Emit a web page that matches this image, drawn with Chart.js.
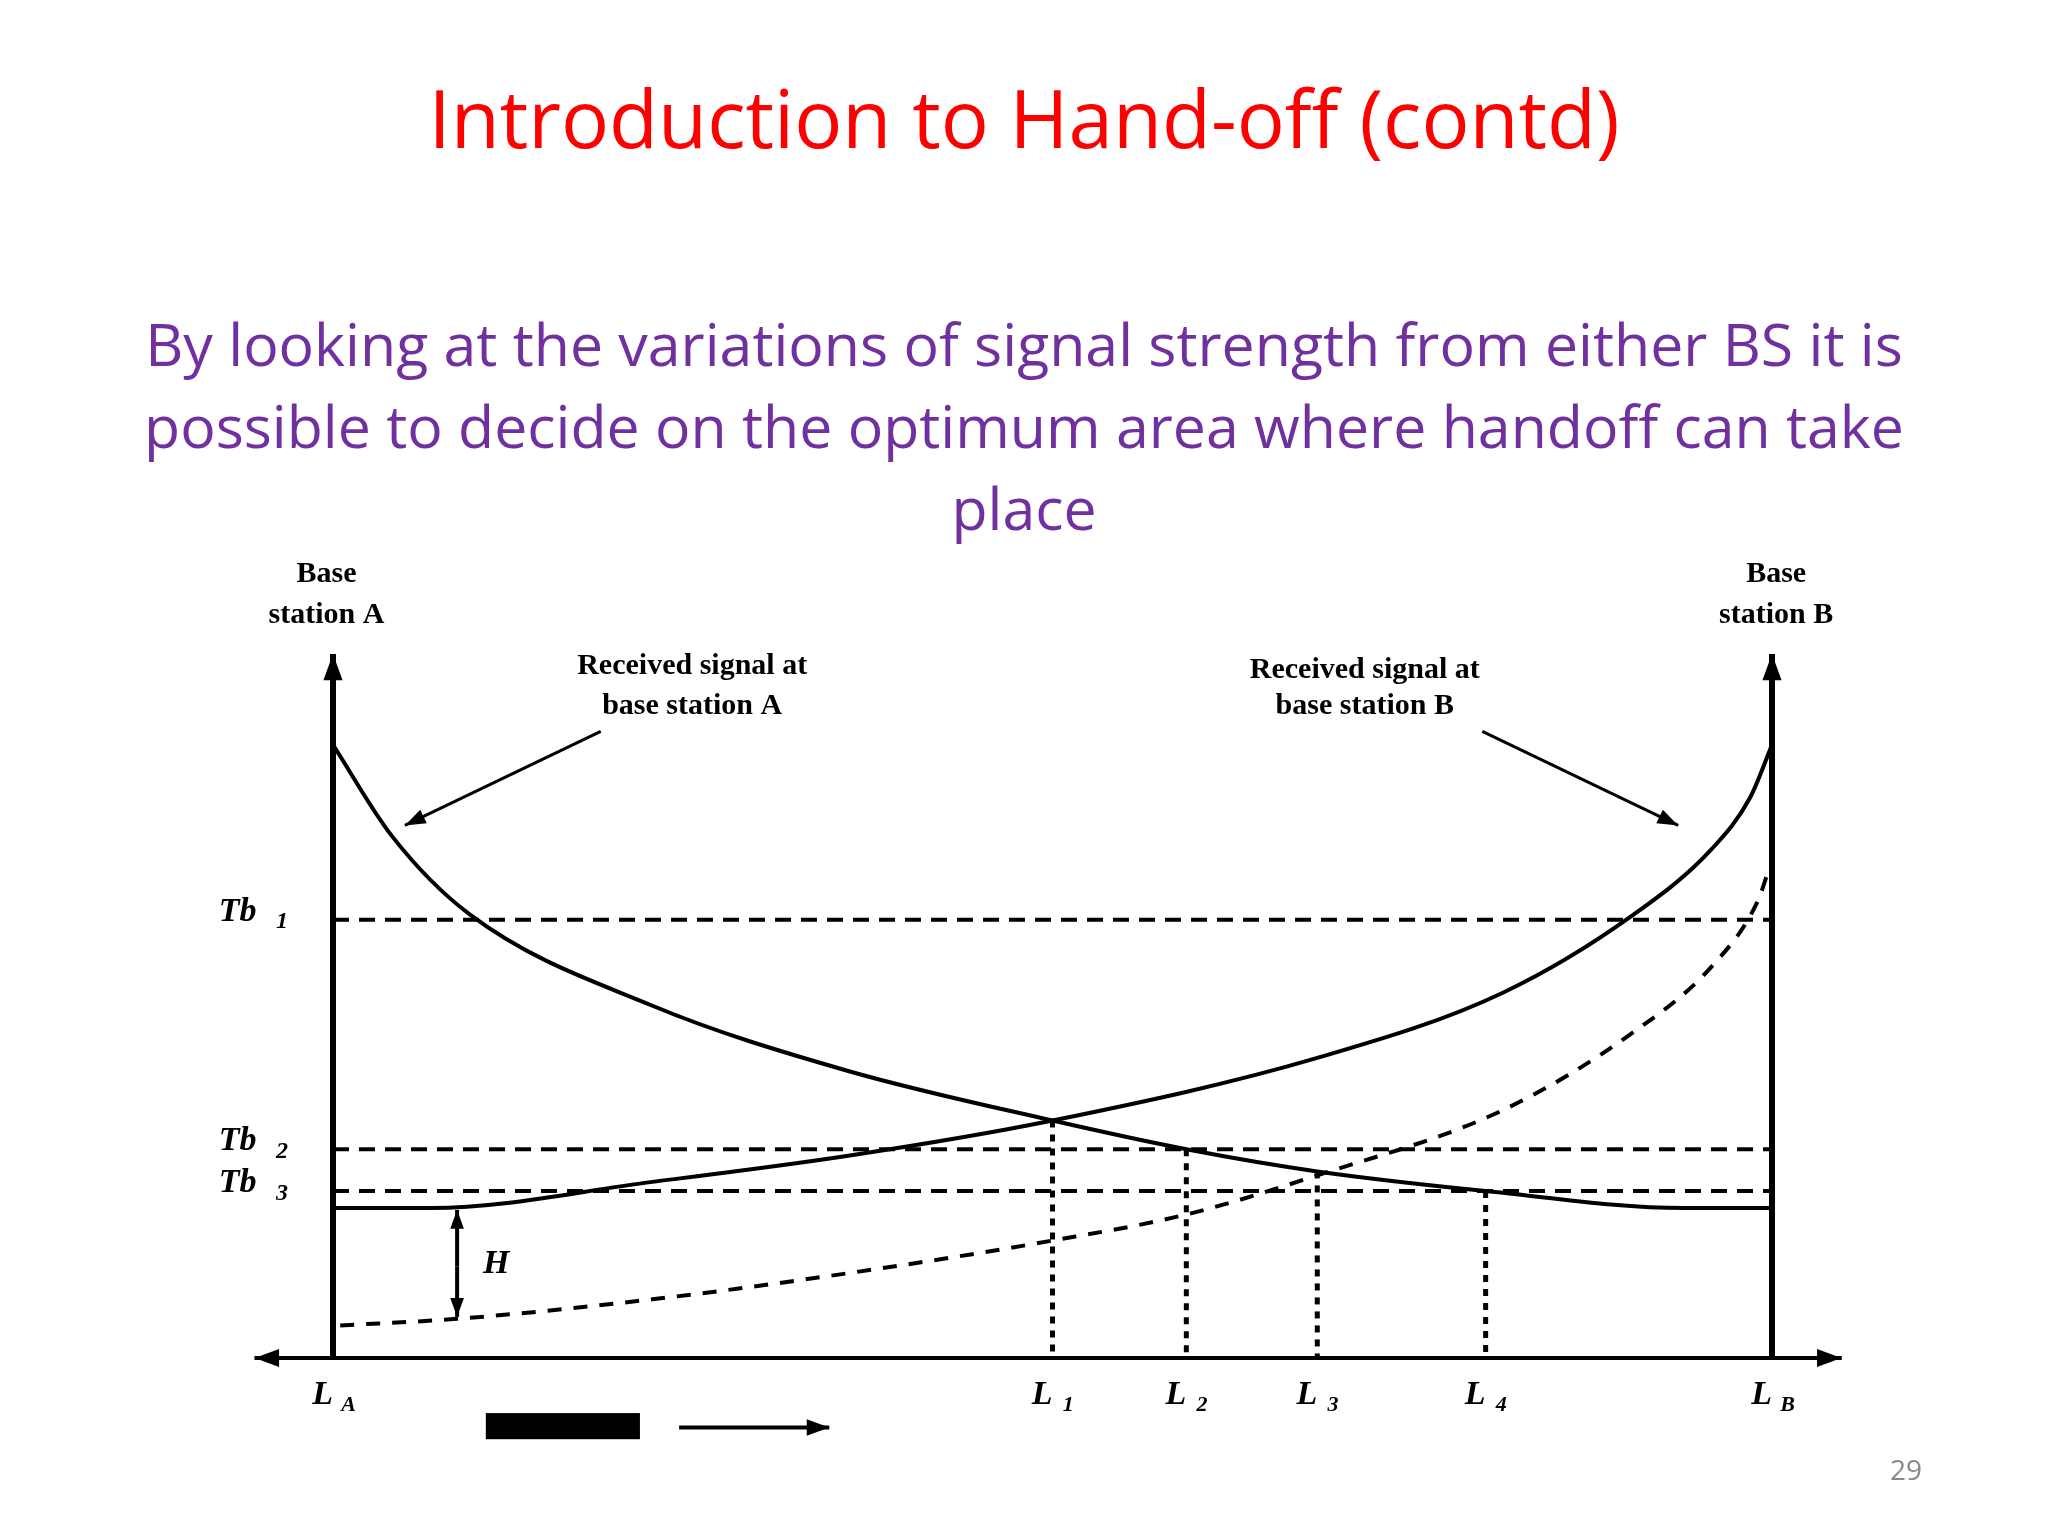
<!DOCTYPE html>
<html><head><meta charset="utf-8">
<script src="https://cdn.jsdelivr.net/npm/chart.js@4"></script>
<style>
body{margin:0;width:2048px;height:1536px;background:#fff;position:relative;overflow:hidden;font-family:"Open Sans","Noto Sans",sans-serif}
#t{position:absolute;top:62px;left:0;width:2048px;text-align:center;color:#ff0000;font-size:80px}
#s{position:absolute;top:302px;left:100px;width:1848px;text-align:center;color:#7030a0;font-size:59px;line-height:82px}
#n{position:absolute;left:1890px;top:1450px;color:#888;font-size:28px}
canvas{position:absolute;left:0;top:0}
</style></head><body>
<canvas id="c" width="2048" height="1536"></canvas>
<div id="t">Introduction to Hand-off (contd)</div>
<div id="s">By looking at the variations of signal strength from either BS it is possible to decide on the optimum area where handoff can take place</div>
<div id="n">29</div>
<script>
const xA=[0,4.1,9.5,22.2,35.8,50,59.3,68.4,80.1,93.9,100];
const yA=[470,400,340,270,220,182,160,143,128,115,115];
const xB=[0,6.8,22.2,35.8,50,68.4,81.3,90.4,95.8,98.5,100];
const yB=[115,115,135,155,182,230,280,340,390,430,470];
const xD=[0.5,8.6,22.2,35.8,50,59.3,68.4,81.3,90.4,95.8,99,99.8];
const yD=[25,30,45,65,90,110,140,190,250,300,350,375];
const thresholds=[["Tb",  "1",336],["Tb","2",160],["Tb","3",128]];
const locX=[["L","A",0],["L","1",50],["L","2",59.3],["L","3",68.4],["L","4",80.1],["L","B",100]];
const locTop=[182,160,143,128];
const pts=(xs,ys)=>xs.map((x,i)=>({x,y:ys[i]}));
const S=1.306;
function arrow(ctx,x1,y1,x2,y2,h){const a=Math.atan2(y2-y1,x2-x1);ctx.beginPath();ctx.moveTo(x1,y1);ctx.lineTo(x2,y2);ctx.stroke();
ctx.beginPath();ctx.moveTo(x2,y2);ctx.lineTo(x2-h*Math.cos(a-0.35),y2-h*Math.sin(a-0.35));ctx.lineTo(x2-h*Math.cos(a+0.35),y2-h*Math.sin(a+0.35));ctx.closePath();ctx.fill();}
const deco={id:'deco',afterDatasetsDraw(ch){
 const ctx=ch.ctx,X=ch.scales.x,Y=ch.scales.y;const px=v=>X.getPixelForValue(v),py=v=>Y.getPixelForValue(v);
 ctx.save();ctx.strokeStyle='#000';ctx.fillStyle='#000';
 ctx.lineWidth=4;arrow(ctx,195*S,py(0),1410*S,py(0),26);arrow(ctx,1410*S,py(0),195*S,py(0),26);
 ctx.lineWidth=6;arrow(ctx,px(0),py(0),px(0),py(535)-6,28);arrow(ctx,px(100),py(0),px(100),py(535)-6,28);
 ctx.lineWidth=4;ctx.setLineDash([16,10]);
 thresholds.forEach(t=>{ctx.beginPath();ctx.moveTo(px(0),py(t[2]));ctx.lineTo(px(100),py(t[2]));ctx.stroke();});
 ctx.setLineDash([7,7]);ctx.lineWidth=5;
 locTop.forEach((v,i)=>{const x=px(locX[i+1][2]);ctx.beginPath();ctx.moveTo(x,py(v));ctx.lineTo(x,py(0));ctx.stroke();});
 ctx.setLineDash([]);ctx.lineWidth=4;
 arrow(ctx,350*S,py(70),350*S,py(115)+2,20);arrow(ctx,350*S,py(70),350*S,py(30)-2,20);
 ctx.lineWidth=3;arrow(ctx,460*S,560*S,310*S,632*S,22);arrow(ctx,1135*S,560*S,1285*S,632*S,22);
 ctx.lineWidth=4;arrow(ctx,520*S,1093*S,635*S,1093*S,24);
 ctx.fillRect(372*S,1082*S,118*S,20*S);
 ctx.font='bold 30px "Liberation Serif"';ctx.textAlign='center';ctx.textBaseline='middle';
 const c=(t,x,y)=>ctx.fillText(t,x*S,y*S);
 c('Base',250,440);c('station A',250,471);c('Base',1360,440);c('station B',1360,471);
 c('Received signal at',530,510);c('base station A',530,541);c('Received signal at',1045,513);c('base station B',1045,541);
 ctx.font='italic bold 34px "Liberation Serif"';
 c('H',380,968);
 thresholds.forEach(t=>{const y=Y.getPixelForValue(t[2])/S-6;c(t[0],182,y);ctx.font='italic bold 24px "Liberation Serif"';c(t[1],216,y+8);ctx.font='italic bold 34px "Liberation Serif"';});
 locX.forEach(l=>{const x=X.getPixelForValue(l[2])/S;c(l[0],x-8,1068);ctx.font='italic bold 22px "Liberation Serif"';c(l[1],x+12,1076);ctx.font='italic bold 34px "Liberation Serif"';});
 ctx.restore();}};
new Chart(document.getElementById('c'),{type:'scatter',
 data:{datasets:[
  {data:pts(xA,yA),showLine:true,borderColor:'#000',borderWidth:4,pointRadius:0,cubicInterpolationMode:'monotone'},
  {data:pts(xB,yB),showLine:true,borderColor:'#000',borderWidth:4,pointRadius:0,cubicInterpolationMode:'monotone'},
  {data:pts(xD,yD),showLine:true,borderColor:'#000',borderWidth:4,borderDash:[14,12],pointRadius:0,cubicInterpolationMode:'monotone'}]},
 options:{responsive:false,animation:false,layout:{padding:{left:333,right:276,top:660,bottom:178}},
  plugins:{legend:{display:false},tooltip:{enabled:false}},
  scales:{x:{type:'linear',min:0,max:100,display:false},y:{min:0,max:535,display:false}}},
 plugins:[deco]});
</script></body></html>
